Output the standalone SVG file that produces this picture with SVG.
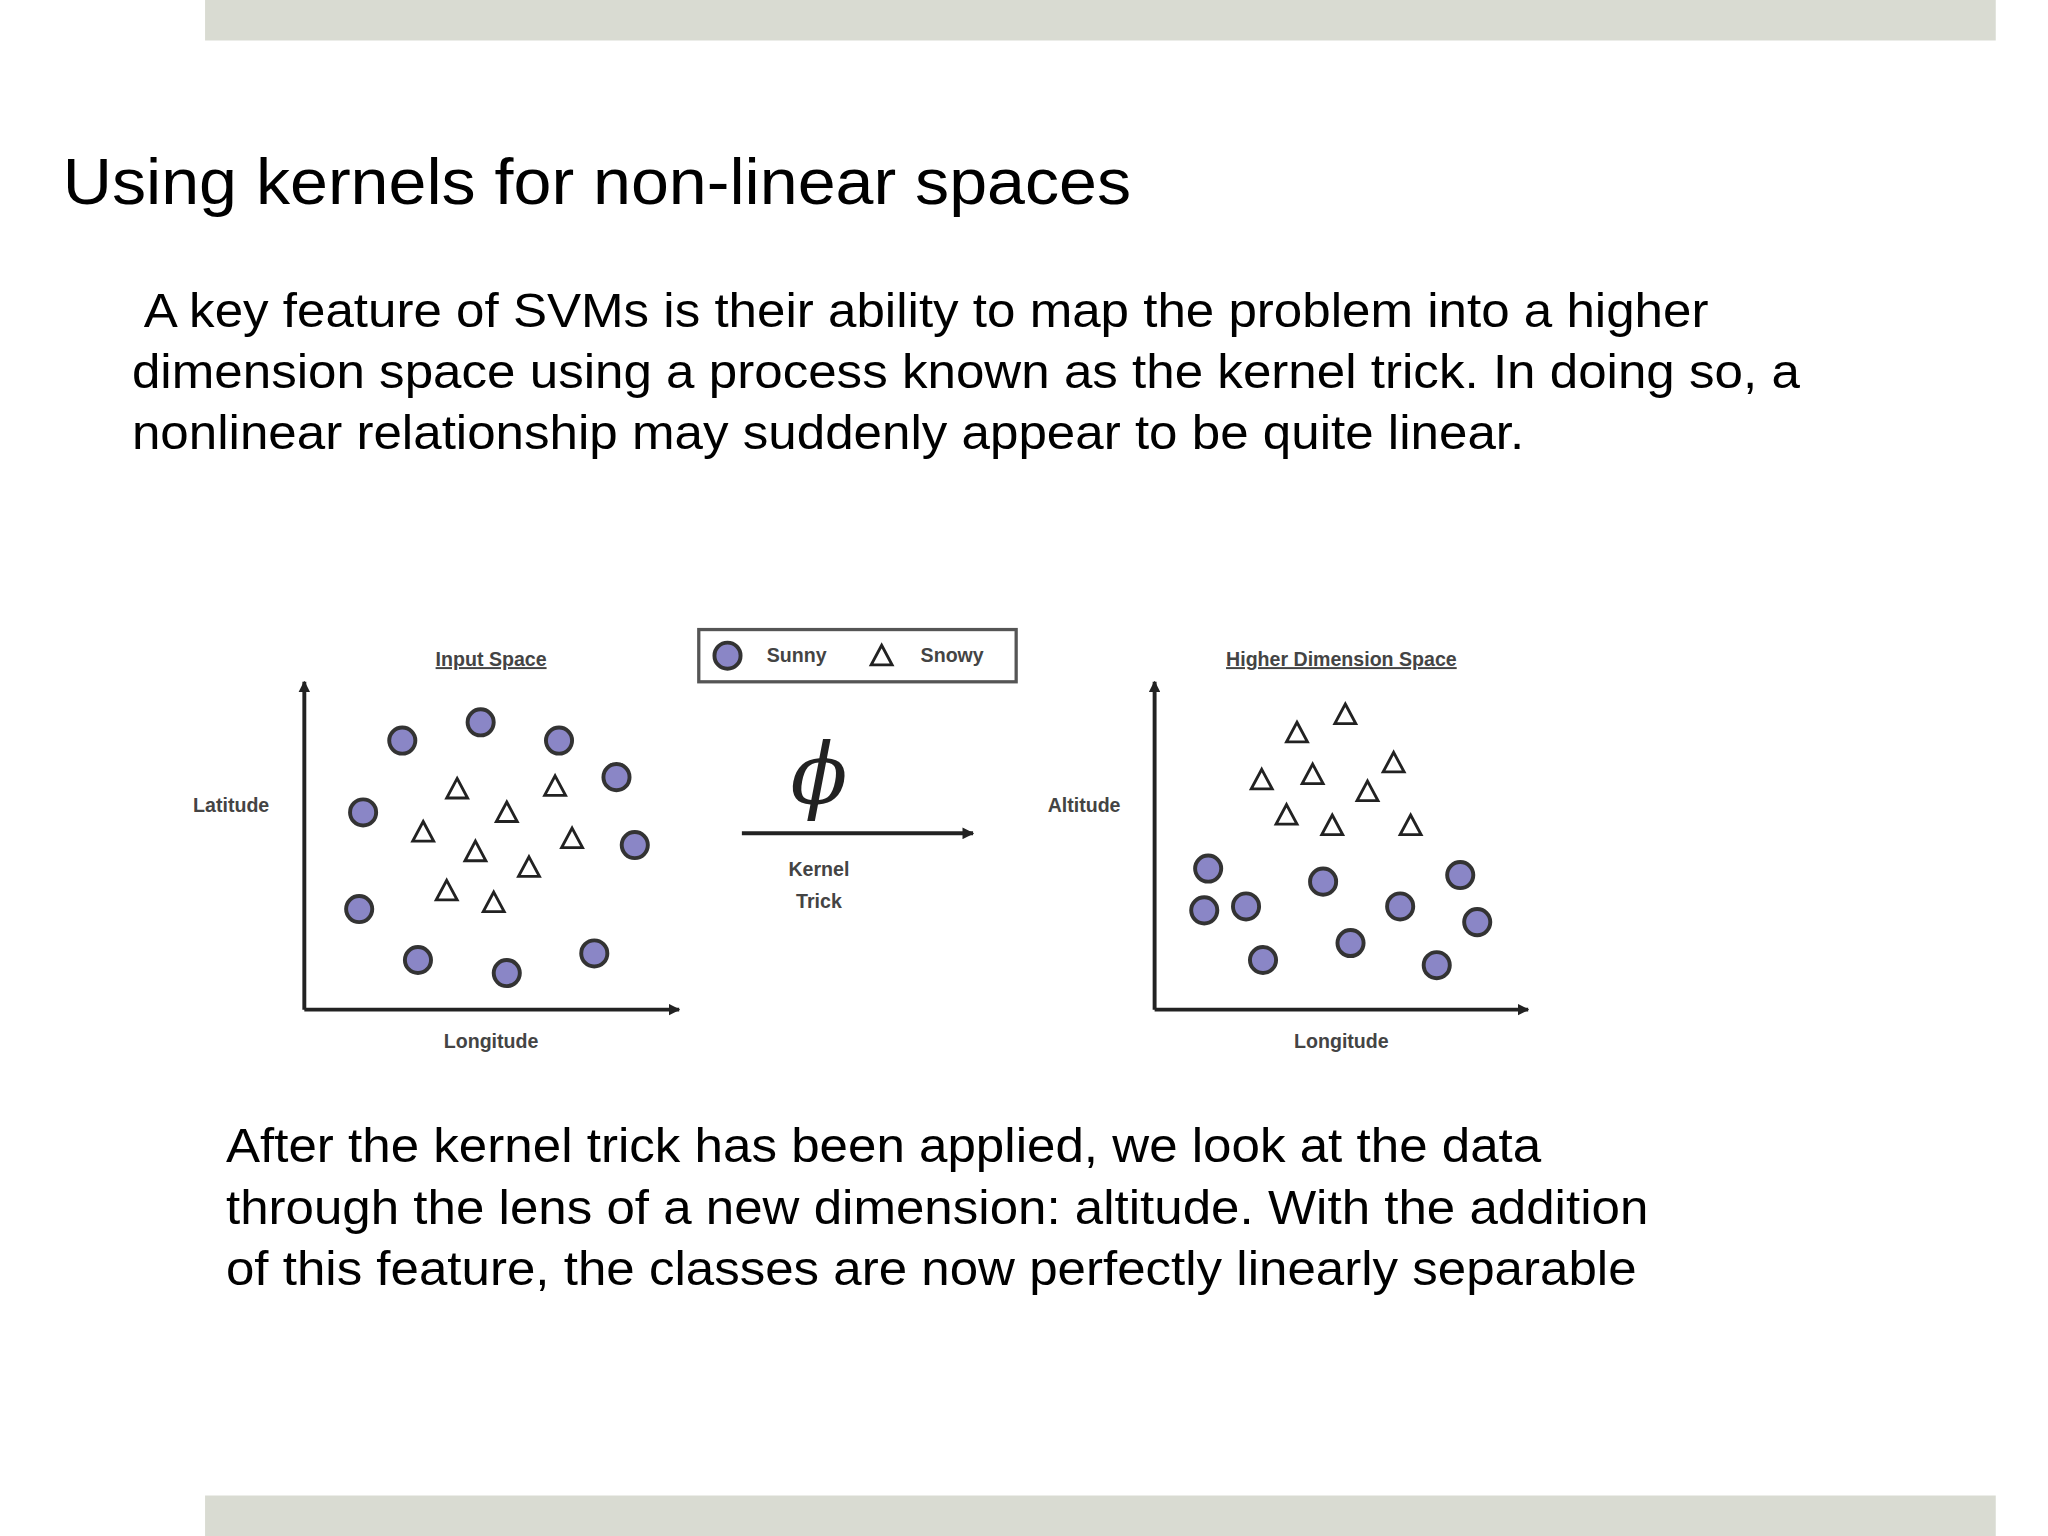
<svg xmlns="http://www.w3.org/2000/svg" width="2048" height="1536" viewBox="0 0 2048 1536">
<style>
.t{font-family:"Liberation Sans",Arial,sans-serif;fill:#000}
.s{font-family:"Liberation Sans",Arial,sans-serif;font-weight:bold;font-size:15px;fill:#444;text-anchor:middle}
.c{fill:#8a86c6;stroke:#333;stroke-width:3}
.tr{fill:#fff;stroke:#222;stroke-width:2.2}
.ax{stroke:#222;stroke-width:3;fill:none}
</style>
<defs>
<marker id="ah2" viewBox="0 0 10 10" refX="9" refY="5" markerWidth="3" markerHeight="3" orient="auto"><path d="M0,0L10,5L0,10z" fill="#222"/></marker>
<path id="tri" d="M0,-9L8,6L-8,6z"/>
</defs>
<rect width="2048" height="1536" fill="#fff"/>
<g transform="scale(1.30612)">
<rect x="157" y="0" width="1371" height="31" fill="#d9dbd2"/>
<rect x="157" y="1145" width="1371" height="31" fill="#d9dbd2"/>
<text class="t" x="48" y="156" font-size="49" textLength="818" lengthAdjust="spacingAndGlyphs">Using kernels for non-linear spaces</text>
<g class="t" font-size="37">
<text x="110" y="250" textLength="1198" lengthAdjust="spacingAndGlyphs">A key feature of SVMs is their ability to map the problem into a higher</text>
<text x="101" y="297" textLength="1277" lengthAdjust="spacingAndGlyphs">dimension space using a process known as the kernel trick. In doing so, a</text>
<text x="101" y="344" textLength="1066" lengthAdjust="spacingAndGlyphs">nonlinear relationship may suddenly appear to be quite linear.</text>
<text x="173" y="890" textLength="1007" lengthAdjust="spacingAndGlyphs">After the kernel trick has been applied, we look at the data</text>
<text x="173" y="937" textLength="1089" lengthAdjust="spacingAndGlyphs">through the lens of a new dimension: altitude. With the addition</text>
<text x="173" y="984" textLength="1080" lengthAdjust="spacingAndGlyphs">of this feature, the classes are now perfectly linearly separable</text>
</g>
<g id="connectors">
<path class="ax" d="M233,773V522" marker-end="url(#ah2)"/>
<path class="ax" d="M233,773H520" marker-end="url(#ah2)"/>
<path class="ax" d="M884,773V522" marker-end="url(#ah2)"/>
<path class="ax" d="M884,773H1170" marker-end="url(#ah2)"/>
<path class="ax" d="M568,638H745" marker-end="url(#ah2)"/>
</g>
<g id="labels">
<text class="s" x="376" y="510" text-decoration="underline">Input Space</text>
<text class="s" x="1027" y="510" text-decoration="underline">Higher Dimension Space</text>
<text class="s" x="177" y="622">Latitude</text>
<text class="s" x="830" y="622">Altitude</text>
<text class="s" x="376" y="802">Longitude</text>
<text class="s" x="1027" y="802">Longitude</text>
<text class="s" x="627" y="671">Kernel</text>
<text class="s" x="627" y="695">Trick</text>
<text x="627" y="615" font-family="'DejaVu Serif',serif" font-style="italic" font-size="64" text-anchor="middle" fill="#222">ϕ</text>
</g>
<g id="legend">
<rect x="535" y="482" width="243" height="40" fill="#fff" stroke="#555" stroke-width="2.5"/>
<circle class="c" cx="557" cy="502" r="10"/>
<text class="s" x="610" y="507">Sunny</text>
<use href="#tri" class="tr" x="675" y="503"/>
<text class="s" x="729" y="507">Snowy</text>
</g>
<g id="input-points">
<g class="c"><circle cx="308" cy="567" r="10"/><circle cx="368" cy="553" r="10"/><circle cx="428" cy="567" r="10"/><circle cx="472" cy="595" r="10"/><circle cx="278" cy="622" r="10"/><circle cx="486" cy="647" r="10"/><circle cx="275" cy="696" r="10"/><circle cx="320" cy="735" r="10"/><circle cx="388" cy="745" r="10"/><circle cx="455" cy="730" r="10"/></g>
<g class="tr"><use href="#tri" x="350" y="605"/><use href="#tri" x="425" y="603"/><use href="#tri" x="388" y="623"/><use href="#tri" x="324" y="638"/><use href="#tri" x="438" y="643"/><use href="#tri" x="364" y="653"/><use href="#tri" x="405" y="665"/><use href="#tri" x="342" y="683"/><use href="#tri" x="378" y="692"/></g>
</g>
<g id="higher-points">
<g class="tr"><use href="#tri" x="993" y="562"/><use href="#tri" x="1030" y="548"/><use href="#tri" x="966" y="598"/><use href="#tri" x="1005" y="594"/><use href="#tri" x="1067" y="585"/><use href="#tri" x="1047" y="607"/><use href="#tri" x="985" y="625"/><use href="#tri" x="1020" y="633"/><use href="#tri" x="1080" y="633"/></g>
<g class="c"><circle cx="925" cy="665" r="10"/><circle cx="1013" cy="675" r="10"/><circle cx="1118" cy="670" r="10"/><circle cx="922" cy="697" r="10"/><circle cx="954" cy="694" r="10"/><circle cx="1072" cy="694" r="10"/><circle cx="1131" cy="706" r="10"/><circle cx="1034" cy="722" r="10"/><circle cx="967" cy="735" r="10"/><circle cx="1100" cy="739" r="10"/></g>
</g>
</g>
</svg>
